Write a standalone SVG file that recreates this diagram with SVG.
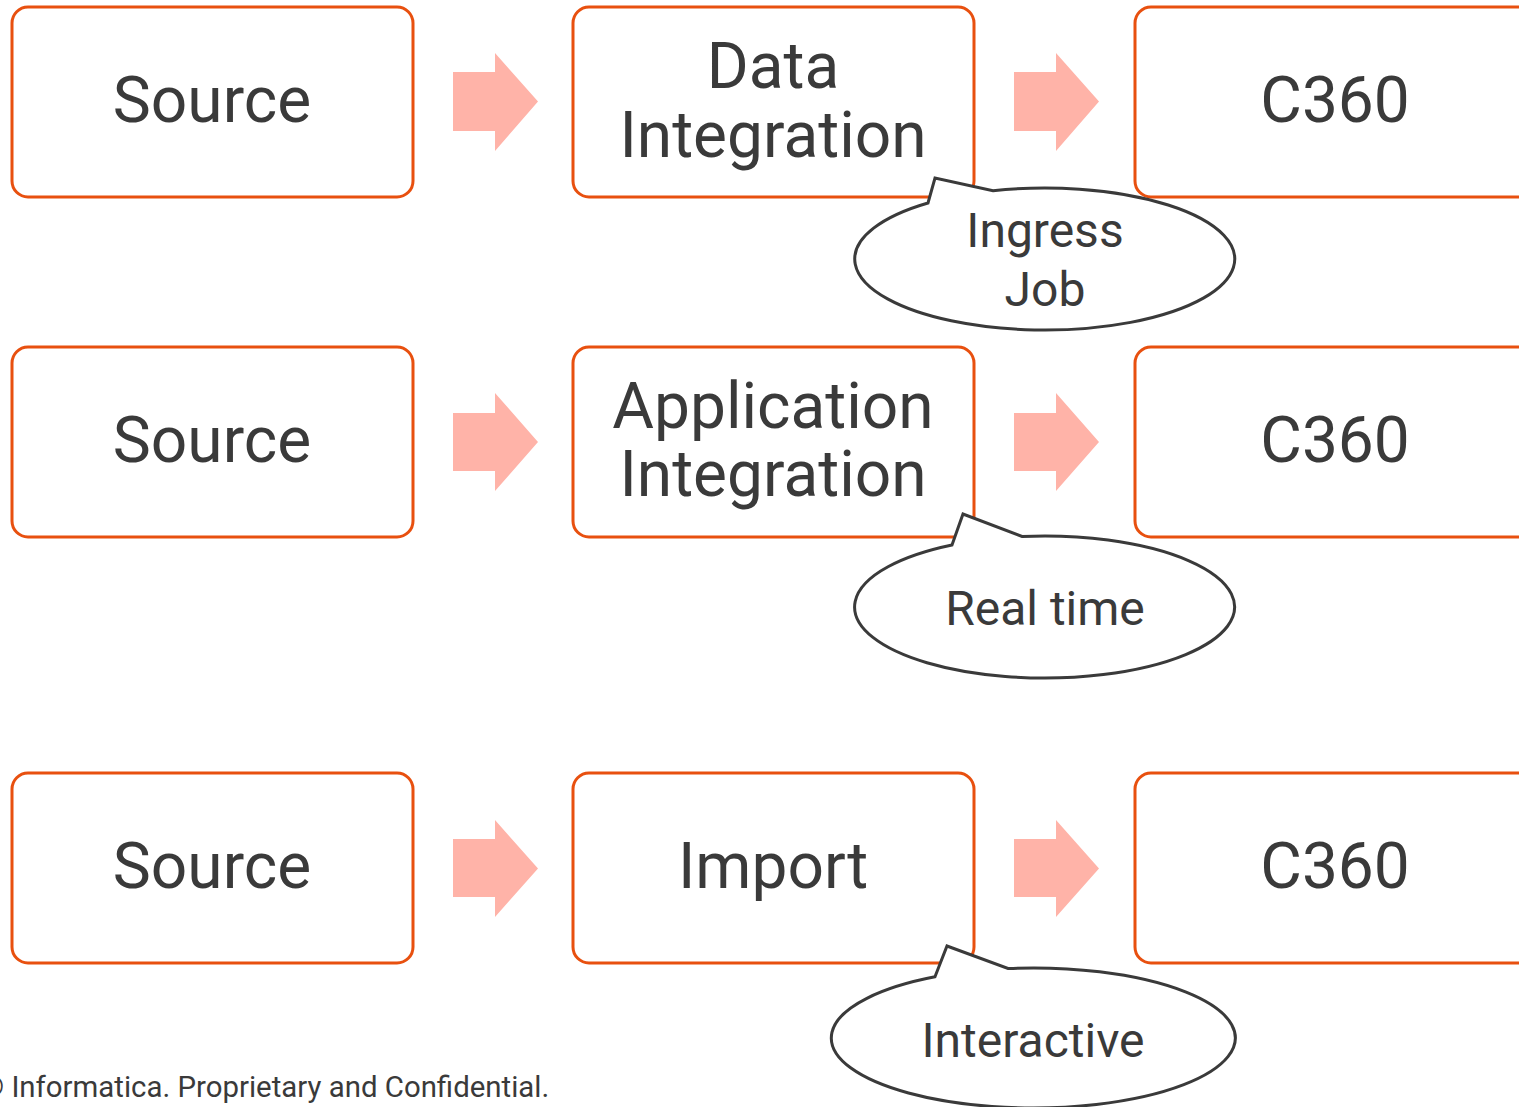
<svg xmlns="http://www.w3.org/2000/svg" width="1519" height="1107" viewBox="0 0 1519 1107">
<style>
.box{fill:#fff;stroke:#e8500f;stroke-width:3}
.arr{fill:#ffb3a8}
.call{fill:#fff;stroke:#3a3a3a;stroke-width:3;stroke-linejoin:miter}
.t{font-family:Roboto,"Liberation Sans",sans-serif;fill:#3a3a3a;text-anchor:middle}
.big{font-size:64px}
.mid{font-size:48px}
.foot{font-family:Roboto,"Liberation Sans",sans-serif;fill:#3a3a3a;font-size:29.4px}
</style>
<rect width="1519" height="1107" fill="#fff"/>
<g id="connectors">
<path class="arr" d="M453,72 H495 V53 L538,101.5 L495,151 V131 H453 Z"/>
<path class="arr" d="M1014,72 H1056 V53 L1099,101.5 L1056,151 V131 H1014 Z"/>
<path class="arr" d="M453,413 H495 V393 L538,442 L495,491 V471 H453 Z"/>
<path class="arr" d="M1014,413 H1056 V393 L1099,442 L1056,491 V471 H1014 Z"/>
<path class="arr" d="M453,839 H495 V820 L538,868.5 L495,917 V897 H453 Z"/>
<path class="arr" d="M1014,839 H1056 V820 L1099,868.5 L1056,917 V897 H1014 Z"/>
</g>
<g id="source1"><rect class="box" x="12" y="7" width="401" height="190" rx="16"/><text class="t big" x="212" y="122">Source</text></g>
<g id="dataint"><rect class="box" x="573" y="7" width="401" height="190" rx="16"/><text class="t big" x="773" y="88">Data</text><text class="t big" x="773" y="157">Integration</text></g>
<g id="c360a"><rect class="box" x="1135" y="7" width="420" height="190" rx="16"/><text class="t big" x="1335" y="122">C360</text></g>
<g id="source2"><rect class="box" x="12" y="347" width="401" height="190" rx="16"/><text class="t big" x="212" y="462">Source</text></g>
<g id="appint"><rect class="box" x="573" y="347" width="401" height="190" rx="16"/><text class="t big" x="773" y="428">Application</text><text class="t big" x="773" y="496">Integration</text></g>
<g id="c360b"><rect class="box" x="1135" y="347" width="420" height="190" rx="16"/><text class="t big" x="1335" y="462">C360</text></g>
<g id="source3"><rect class="box" x="12" y="773" width="401" height="190" rx="16"/><text class="t big" x="212" y="888">Source</text></g>
<g id="import"><rect class="box" x="573" y="773" width="401" height="190" rx="16"/><text class="t big" x="773" y="888">Import</text></g>
<g id="c360c"><rect class="box" x="1135" y="773" width="420" height="190" rx="16"/><text class="t big" x="1335" y="888">C360</text></g>
<g id="callout1"><path class="call" d="M993,190.7 A190,71 0 1 1 928,203 L935,178 Z"/><text class="t mid" x="1045" y="247">Ingress</text><text class="t mid" x="1045" y="306">Job</text></g>
<g id="callout2"><path class="call" d="M1022,536.5 A190,71 0 1 1 952,545 L963,514 Z"/><text class="t mid" x="1045" y="625">Real time</text></g>
<g id="callout3"><path class="call" d="M1008,968.5 A202,70 0 1 1 935,976.8 L947,946 Z"/><text class="t mid" x="1033" y="1057">Interactive</text></g>
<text class="foot" x="-19" y="1097">© Informatica. Proprietary and Confidential.</text>
</svg>
